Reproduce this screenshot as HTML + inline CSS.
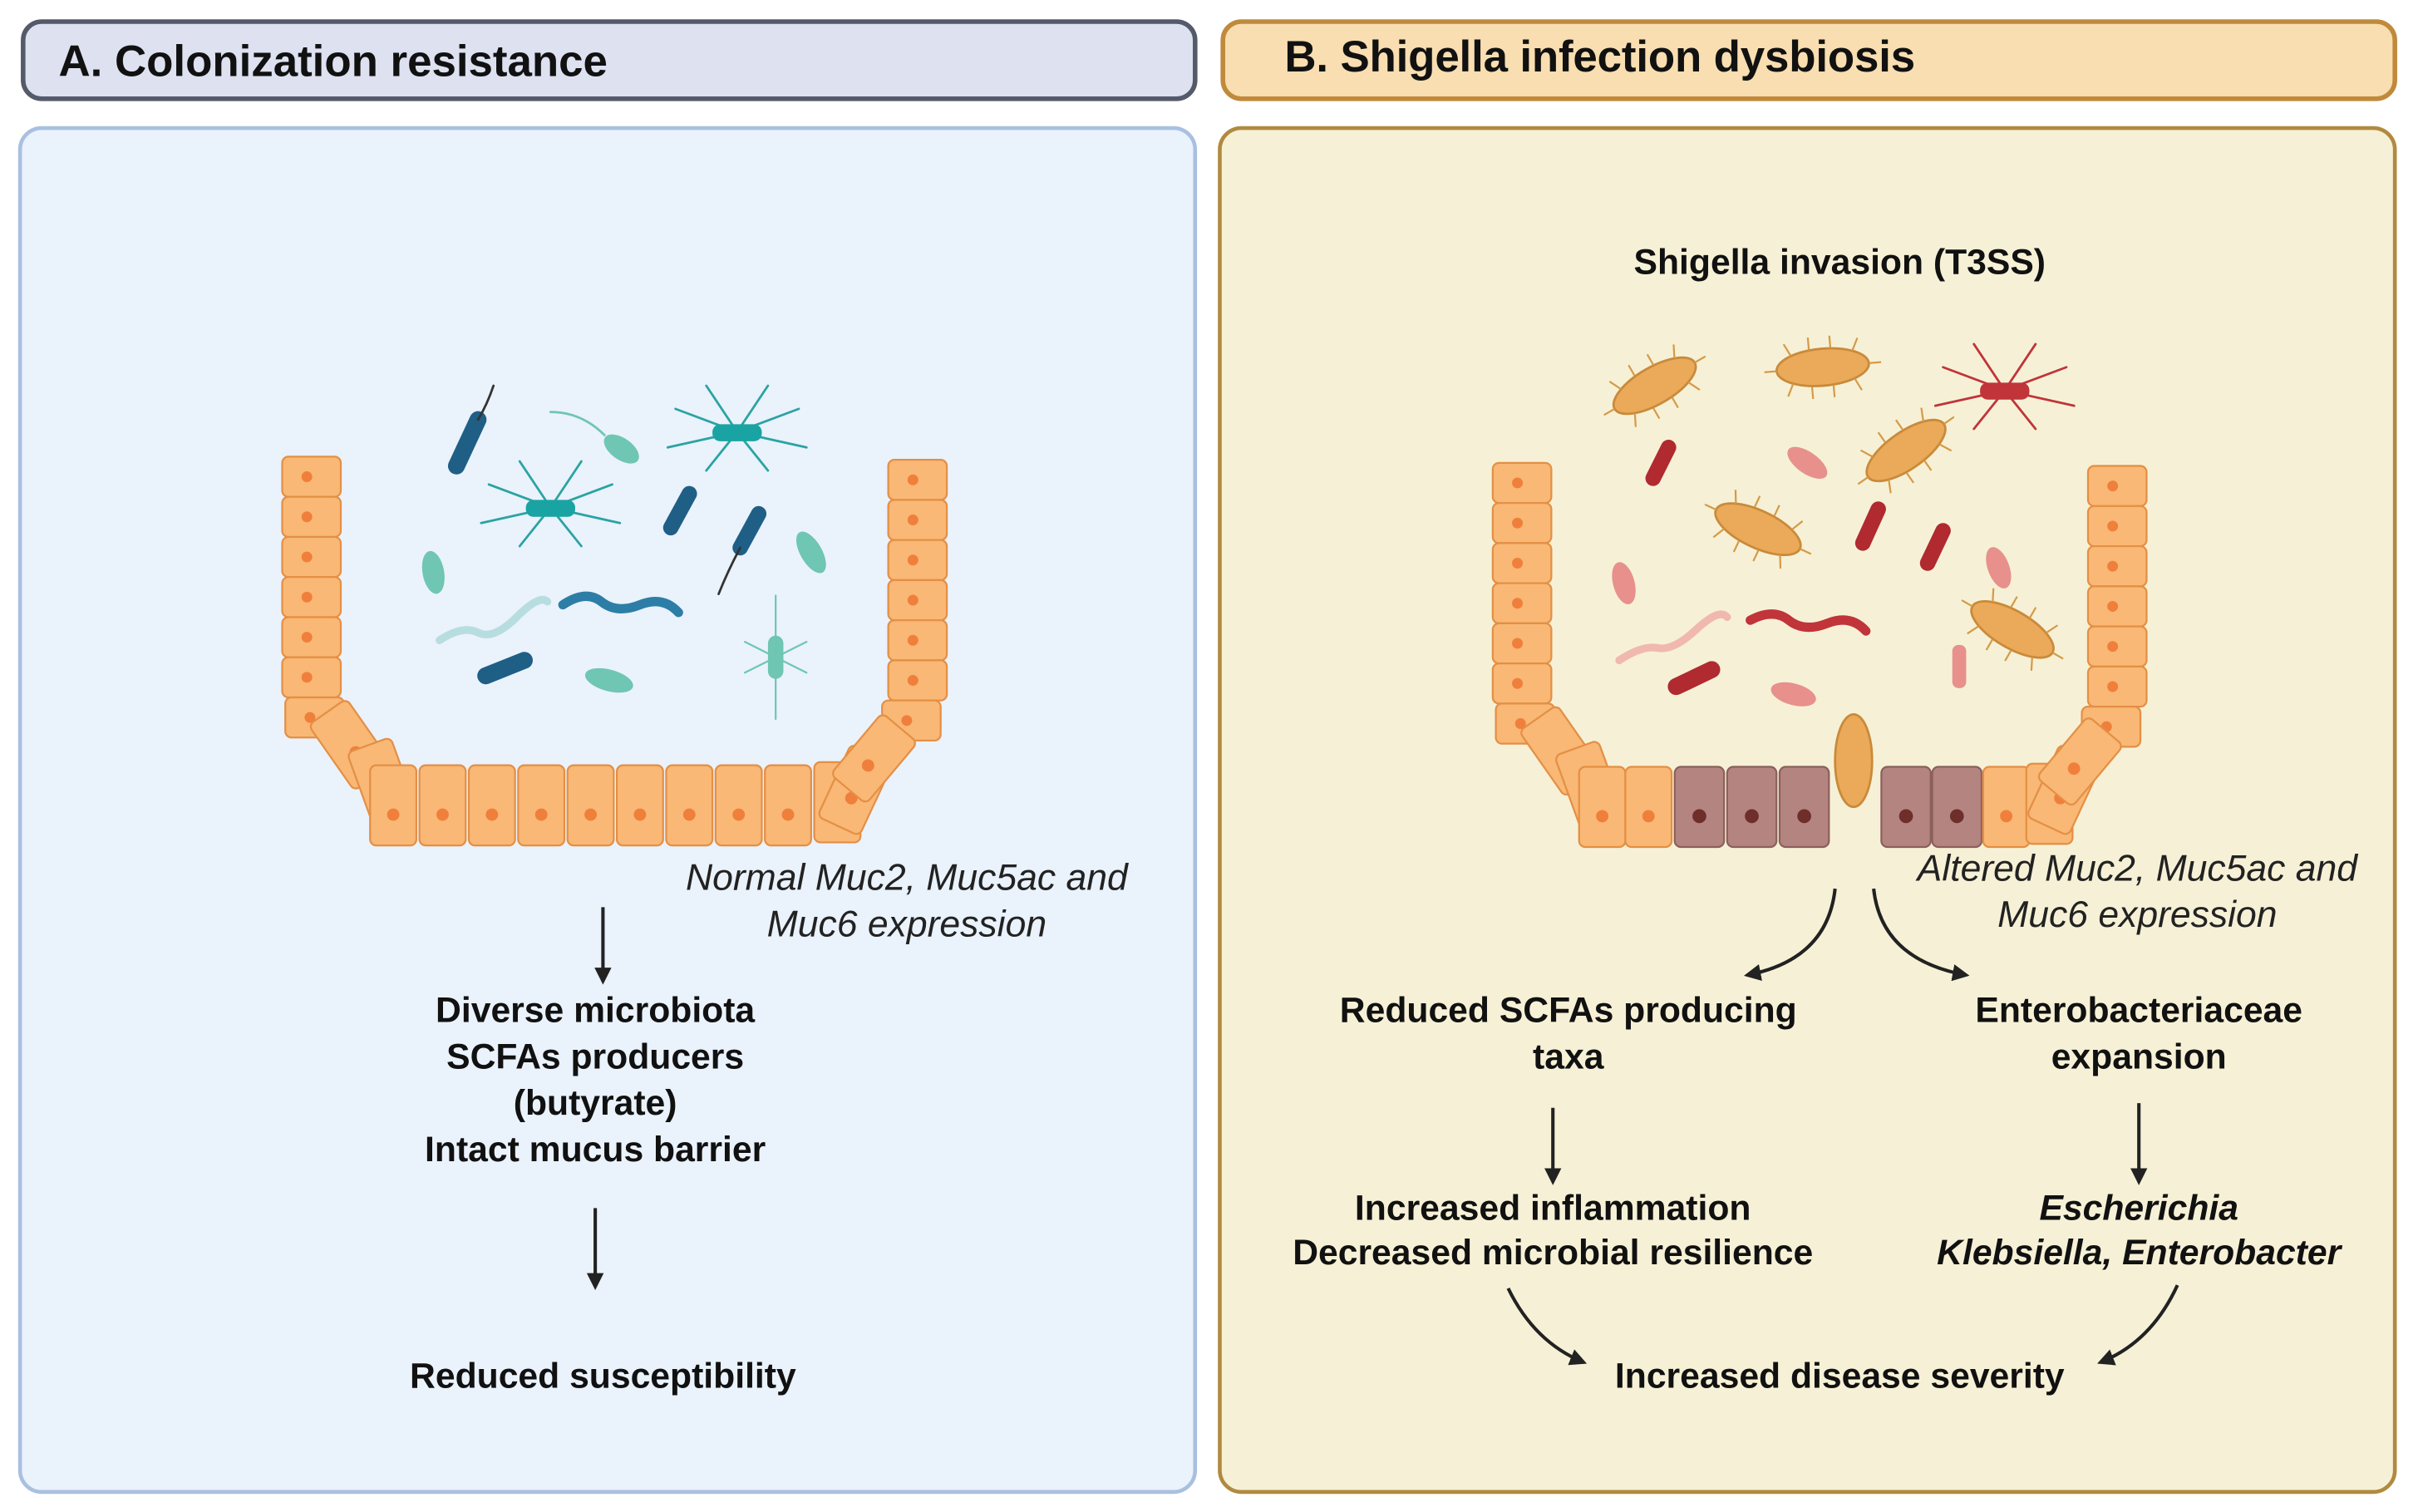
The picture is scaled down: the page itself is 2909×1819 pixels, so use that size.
<!DOCTYPE html>
<html><head><meta charset="utf-8"><style>
html,body{margin:0;padding:0;background:#fff;}
svg{display:block;}
text{font-family:"Liberation Sans",sans-serif;}
</style></head><body>
<svg width="2909" height="1819" viewBox="0 0 1568 980" preserveAspectRatio="none" xmlns="http://www.w3.org/2000/svg">
<defs>
<marker id="ah" viewBox="0 0 10 10" refX="8" refY="5" markerWidth="5" markerHeight="5" orient="auto"><path d="M0,0 L10,5 L0,10 z" fill="#222"/></marker>
<g id="cell"><rect x="0" y="0" width="38" height="26" rx="4" fill="#f9b875" stroke="#e48f45" stroke-width="1.2"/><circle cx="16" cy="13" r="3.5" fill="#f07f3c"/></g>
<g id="bcell"><rect x="0" y="0" width="30" height="52" rx="4" fill="#f9b875" stroke="#e48f45" stroke-width="1.2"/><circle cx="15" cy="32" r="4" fill="#f07f3c"/></g>
<g id="dcell"><rect x="0" y="0" width="32" height="52" rx="4" fill="#b38480" stroke="#8c605c" stroke-width="1.2"/><circle cx="16" cy="32" r="4.5" fill="#6e2e2a"/></g>
<g id="sp"><ellipse cx="0" cy="0" rx="30" ry="12" fill="#eaaa5a" stroke="#c98a3a" stroke-width="1.5"/><g stroke="#d69a48" stroke-width="1.2"><line x1="-30" y1="0" x2="-38" y2="0"/><line x1="30" y1="0" x2="38" y2="0"/><line x1="-20" y1="-9" x2="-24" y2="-17"/><line x1="-8" y1="-12" x2="-8" y2="-20"/><line x1="6" y1="-12" x2="6" y2="-20"/><line x1="20" y1="-9" x2="24" y2="-17"/><line x1="-20" y1="9" x2="-24" y2="17"/><line x1="-8" y1="12" x2="-8" y2="20"/><line x1="6" y1="12" x2="6" y2="20"/><line x1="20" y1="9" x2="24" y2="17"/></g></g>
</defs>
<rect x="0" y="0" width="1568" height="980" fill="#fff"/>
<rect x="15" y="14" width="760" height="50" rx="12" fill="#dde1f0" stroke="#555a6a" stroke-width="3"/>
<text x="38" y="40" font-size="28.5" font-weight="bold" dominant-baseline="central" fill="#111" textLength="356">A. Colonization resistance</text>
<rect x="793" y="14" width="760" height="50" rx="12" fill="#f8deb0" stroke="#c08a3c" stroke-width="3"/>
<text x="833" y="37" font-size="28.5" font-weight="bold" dominant-baseline="central" fill="#111" textLength="409">B. Shigella infection dysbiosis</text>
<rect x="13" y="83" width="762" height="884" rx="14" fill="#eaf2fc" stroke="#a9c0e0" stroke-width="2.5"/>
<rect x="791" y="83" width="762" height="884" rx="14" fill="#f6f1d6" stroke="#b08a40" stroke-width="2.5"/>

<g>
<use href="#cell" x="183" y="296"/><use href="#cell" x="183" y="322"/><use href="#cell" x="183" y="348"/><use href="#cell" x="183" y="374"/><use href="#cell" x="183" y="400"/><use href="#cell" x="183" y="426"/><use href="#cell" x="185" y="452"/>
<use href="#cell" x="576" y="298"/><use href="#cell" x="576" y="324"/><use href="#cell" x="576" y="350"/><use href="#cell" x="576" y="376"/><use href="#cell" x="576" y="402"/><use href="#cell" x="576" y="428"/><use href="#cell" x="572" y="454"/>
<use href="#bcell" transform="translate(200,470) rotate(-35)"/><use href="#bcell" transform="translate(225,488) rotate(-20)"/>
<use href="#bcell" x="240" y="496"/><use href="#bcell" x="272" y="496"/><use href="#bcell" x="304" y="496"/><use href="#bcell" x="336" y="496"/><use href="#bcell" x="368" y="496"/><use href="#bcell" x="400" y="496"/><use href="#bcell" x="432" y="496"/><use href="#bcell" x="464" y="496"/><use href="#bcell" x="496" y="496"/><use href="#bcell" x="528" y="494"/>
<use href="#bcell" transform="translate(552,482) rotate(25)"/><use href="#bcell" transform="translate(572,462) rotate(40)"/>
</g>
<g stroke-linecap="round">
<line x1="296" y1="302" x2="310" y2="272" stroke="#1f5f86" stroke-width="11"/><path d="M310,272 q6,-10 10,-22" stroke="#333" fill="none" stroke-width="1.5"/>
<ellipse cx="403" cy="291" rx="13" ry="7" transform="rotate(35 403 291)" fill="#6fc6b2"/><path d="M392,282 q-15,-15 -35,-15" stroke="#6fc6b2" fill="none" stroke-width="1.5"/>
<g stroke="#2aa3a3" stroke-width="1.5" fill="none"><path d="M478,280 l-40,-15 M478,280 l40,-15 M478,280 l-45,10 M478,280 l45,10 M478,280 l-20,-30 M478,280 l20,-30 M478,280 l-20,25 M478,280 l20,25"/></g>
<rect x="462" y="275" width="32" height="11" rx="5" fill="#1aa3a3"/>
<g stroke="#2aa3a3" stroke-width="1.5" fill="none"><path d="M357,329 l-40,-15 M357,329 l40,-15 M357,329 l-45,10 M357,329 l45,10 M357,329 l-20,-30 M357,329 l20,-30 M357,329 l-20,25 M357,329 l20,25"/></g>
<rect x="341" y="324" width="32" height="11" rx="5" fill="#1aa3a3"/>
<line x1="435" y1="342" x2="447" y2="320" stroke="#1f5f86" stroke-width="10"/>
<line x1="480" y1="355" x2="492" y2="333" stroke="#1f5f86" stroke-width="10"/><path d="M480,355 q-8,15 -14,30" stroke="#333" fill="none" stroke-width="1.5"/>
<ellipse cx="281" cy="371" rx="14" ry="7" transform="rotate(80 281 371)" fill="#6fc6b2"/>
<ellipse cx="526" cy="358" rx="15" ry="7" transform="rotate(60 526 358)" fill="#6fc6b2"/>
<path d="M285,415 q15,-10 25,-5 t25,-10 t20,-10" stroke="#b7dde0" fill="none" stroke-width="5"/>
<path d="M365,392 q15,-10 25,-2 t25,2 t25,5" stroke="#2d7ea6" fill="none" stroke-width="6"/>
<line x1="315" y1="438" x2="340" y2="428" stroke="#1f5f86" stroke-width="11"/>
<ellipse cx="395" cy="441" rx="16" ry="7" transform="rotate(15 395 441)" fill="#6fc6b2"/>
<rect x="498" y="412" width="10" height="28" rx="5" fill="#6fc6b2"/><g stroke="#6fc6b2" stroke-width="1.2"><path d="M503,426 l-20,-10 M503,426 l20,-10 M503,426 l-20,10 M503,426 l20,10 M503,426 v-40 M503,426 v40"/></g>
</g>
<g>
<use href="#cell" x="968" y="300"/><use href="#cell" x="968" y="326"/><use href="#cell" x="968" y="352"/><use href="#cell" x="968" y="378"/><use href="#cell" x="968" y="404"/><use href="#cell" x="968" y="430"/><use href="#cell" x="970" y="456"/>
<use href="#cell" x="1354" y="302"/><use href="#cell" x="1354" y="328"/><use href="#cell" x="1354" y="354"/><use href="#cell" x="1354" y="380"/><use href="#cell" x="1354" y="406"/><use href="#cell" x="1354" y="432"/><use href="#cell" x="1350" y="458"/>
<use href="#bcell" transform="translate(985,474) rotate(-35)"/><use href="#bcell" transform="translate(1008,490) rotate(-20)"/>
<use href="#bcell" x="1024" y="497"/><use href="#bcell" x="1054" y="497"/>
<use href="#dcell" x="1086" y="497"/><use href="#dcell" x="1120" y="497"/><use href="#dcell" x="1154" y="497"/>
<use href="#dcell" x="1220" y="497"/><use href="#dcell" x="1253" y="497"/>
<use href="#bcell" x="1286" y="497"/><use href="#bcell" x="1314" y="495"/>
<use href="#bcell" transform="translate(1336,482) rotate(25)"/><use href="#bcell" transform="translate(1354,464) rotate(40)"/>
<ellipse cx="1202" cy="493" rx="12" ry="30" fill="#eaaa5a" stroke="#c98a3a" stroke-width="1.5"/>
</g>
<use href="#sp" transform="translate(1073,250) rotate(-30)"/>
<use href="#sp" transform="translate(1182,238) rotate(-5)"/>
<use href="#sp" transform="translate(1236,292) rotate(-35)"/>
<use href="#sp" transform="translate(1140,343) rotate(25)"/>
<use href="#sp" transform="translate(1305,408) rotate(30)"/>
<g stroke-linecap="round">
<g stroke="#c0343a" stroke-width="1.5" fill="none"><path d="M1300,253 l-40,-15 M1300,253 l40,-15 M1300,253 l-45,10 M1300,253 l45,10 M1300,253 l-20,-30 M1300,253 l20,-30 M1300,253 l-20,25 M1300,253 l20,25"/></g>
<rect x="1284" y="248" width="32" height="11" rx="5" fill="#c0343a"/>
<line x1="1072" y1="310" x2="1082" y2="290" stroke="#b02a30" stroke-width="10"/>
<ellipse cx="1172" cy="300" rx="15" ry="7" transform="rotate(35 1172 300)" fill="#e8908c"/>
<line x1="1208" y1="352" x2="1218" y2="330" stroke="#b02a30" stroke-width="10"/>
<line x1="1250" y1="365" x2="1260" y2="344" stroke="#b02a30" stroke-width="10"/>
<ellipse cx="1053" cy="378" rx="14" ry="7" transform="rotate(75 1053 378)" fill="#e8908c"/>
<ellipse cx="1296" cy="368" rx="14" ry="7" transform="rotate(70 1296 368)" fill="#e8908c"/>
<path d="M1050,428 q15,-10 25,-8 t25,-12 t20,-8" stroke="#f0b8b0" fill="none" stroke-width="5"/>
<path d="M1135,402 q15,-8 25,0 t25,2 t25,5" stroke="#c0343a" fill="none" stroke-width="6"/>
<line x1="1087" y1="445" x2="1110" y2="434" stroke="#b02a30" stroke-width="11"/>
<ellipse cx="1163" cy="450" rx="15" ry="7" transform="rotate(15 1163 450)" fill="#e8908c"/>
<rect x="1266" y="418" width="9" height="28" rx="4" fill="#e8908c"/>
</g>

<g font-style="italic" font-size="24" fill="#222" text-anchor="middle" dominant-baseline="central">
<text x="588" y="569">Normal Muc2, Muc5ac and</text>
<text x="588" y="599">Muc6 expression</text>
<text x="1386" y="563">Altered Muc2, Muc5ac and</text>
<text x="1386" y="593">Muc6 expression</text>
</g>
<g font-weight="bold" font-size="23" fill="#111" text-anchor="middle" dominant-baseline="central">
<text x="386" y="655">Diverse microbiota</text>
<text x="386" y="685">SCFAs producers</text>
<text x="386" y="715">(butyrate)</text>
<text x="386" y="745">Intact mucus barrier</text>
<text x="391" y="892">Reduced susceptibility</text>
<text x="1193" y="170">Shigella invasion (T3SS)</text>
<text x="1017" y="655">Reduced SCFAs producing</text>
<text x="1017" y="685">taxa</text>
<text x="1387" y="655">Enterobacteriaceae</text>
<text x="1387" y="685">expansion</text>
<text x="1007" y="783">Increased inflammation</text>
<text x="1007" y="812">Decreased microbial resilience</text>
<text x="1387" y="783" font-style="italic">Escherichia</text>
<text x="1387" y="812" font-style="italic">Klebsiella, Enterobacter</text>
<text x="1193" y="892">Increased disease severity</text>
</g>
<g stroke="#222" stroke-width="2.2" fill="none" marker-end="url(#ah)">
<line x1="391" y1="588" x2="391" y2="636"/>
<line x1="386" y1="783" x2="386" y2="834"/>
<line x1="1007" y1="718" x2="1007" y2="766"/>
<line x1="1387" y1="715" x2="1387" y2="766"/>
<path d="M1190,576 Q1185,622 1133,632"/>
<path d="M1215,576 Q1220,622 1275,632"/>
<path d="M978,835 Q995,870 1027,883"/>
<path d="M1412,833 Q1395,870 1362,883"/>
</g>
</svg>
</body></html>
